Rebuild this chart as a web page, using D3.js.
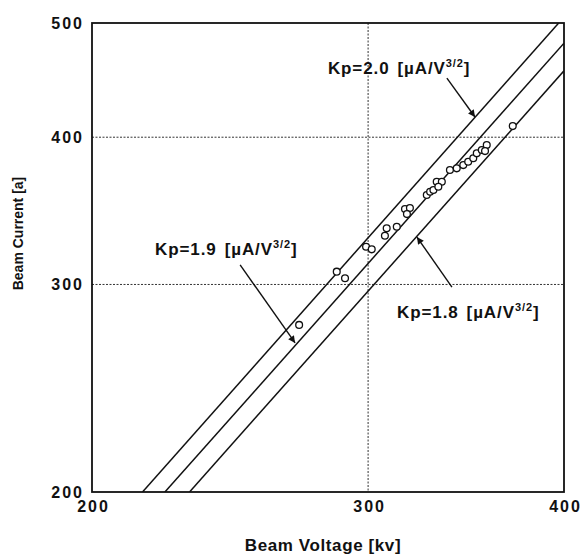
<!DOCTYPE html>
<html>
<head>
<meta charset="utf-8">
<script src="https://cdn.jsdelivr.net/npm/d3@7"></script>
<style>
    html, body { margin: 0; padding: 0; background: #fff; }
    svg { display: block; font-family: "Liberation Sans", Arial, Helvetica, sans-serif; font-weight: bold; }
    .tick-lbl { font-size: 16px; letter-spacing: 2px; fill: #111; }
    .ann { font-size: 17px; letter-spacing: 0.9px; fill: #111; }
</style>
</head>
<body>
<svg id="chart" width="582" height="556"></svg>
<script>
// Beam current vs beam voltage, log-log, with Kp = I / V^(3/2) perveance lines.

// axis ticks
var xTicks = [200, 300, 400];
var yTicks = [200, 300, 400, 500];
var xGrid = [300];
var yGrid = [300, 400];

// measured points: beam voltage [kV], beam current [A]
var voltage = [271.1, 286.5, 290.0, 299.1, 301.6, 307.5, 308.3, 312.9, 316.7, 319.0,
               317.6, 327.0, 328.6, 330.2, 331.8, 334.3, 332.6, 338.3, 341.7, 345.0,
               347.5, 350.1, 351.9, 354.5, 357.1, 356.2, 371.0];
var current = [277.2, 307.6, 303.7, 322.9, 321.3, 330.0, 334.8, 335.8, 347.6, 348.3,
               344.2, 357.3, 359.6, 360.8, 366.7, 366.7, 363.1, 375.2, 376.4, 378.8,
               381.3, 383.9, 387.6, 390.1, 393.9, 389.3, 408.8];

// perveance lines, end points [kV, A] where they leave the frame
var kpValues = ['2.0', '1.9', '1.8'];
var lineStart = [[215.4, 200], [222.6, 200], [230.8, 200]];
var lineEnd = [[396.9, 500], [400, 480.7], [400, 455.4]];

// annotation text anchor and arrow [from, to], in data units
var annText = [[282.8, 457.9], [219.4, 321.5], [313.0, 284.3]];
var annArrow = [
    [[336.8, 449.0], [351.0, 416.1]],
    [[248.6, 311.7], [269.5, 267.6]],
    [[339.3, 298.5], [322.3, 329.1]]
];

(function () {
    var svg = d3.select('#chart');
    var m = { top: 23, right: 18, bottom: 64, left: 92 };
    var W = 582, H = 556;
    var iw = W - m.left - m.right;
    var ih = H - m.top - m.bottom;

    var x = d3.scaleLog().domain([200, 400]).range([0, iw]);
    var y = d3.scaleLog().domain([200, 500]).range([ih, 0]);

    var defs = svg.append('defs');
    defs.append('clipPath').attr('id', 'clip')
        .append('rect').attr('width', iw).attr('height', ih);
    defs.append('marker')
        .attr('id', 'head')
        .attr('viewBox', '0 0 10 10')
        .attr('refX', 10).attr('refY', 5)
        .attr('markerWidth', 10).attr('markerHeight', 7)
        .attr('markerUnits', 'userSpaceOnUse')
        .attr('orient', 'auto')
        .append('path').attr('d', 'M0,0 L10,5 L0,10 Z').attr('fill', '#111');

    var g = svg.append('g').attr('transform', 'translate(' + m.left + ',' + m.top + ')');

    // dotted grid
    var grid = g.append('g').attr('class', 'grid');
    xGrid.forEach(function (v) {
        grid.append('line')
            .attr('x1', x(v)).attr('x2', x(v)).attr('y1', 0).attr('y2', ih)
            .attr('stroke', '#333').attr('stroke-width', 1).attr('stroke-dasharray', '2 1.5');
    });
    yGrid.forEach(function (v) {
        grid.append('line')
            .attr('x1', 0).attr('x2', iw).attr('y1', y(v)).attr('y2', y(v))
            .attr('stroke', '#333').attr('stroke-width', 1).attr('stroke-dasharray', '2 1.5');
    });

    // Kp lines
    var plot = g.append('g').attr('clip-path', 'url(#clip)');
    kpValues.forEach(function (k, i) {
        plot.append('line')
            .attr('x1', x(lineStart[i][0])).attr('y1', y(lineStart[i][1]))
            .attr('x2', x(lineEnd[i][0])).attr('y2', y(lineEnd[i][1]))
            .attr('stroke', '#111').attr('stroke-width', 1.5);
    });

    // data points
    plot.selectAll('circle.pt')
        .data(d3.range(voltage.length))
        .enter().append('circle')
        .attr('class', 'pt')
        .attr('cx', function (i) { return x(voltage[i]); })
        .attr('cy', function (i) { return y(current[i]); })
        .attr('r', 3.4)
        .attr('fill', '#fff')
        .attr('stroke', '#111')
        .attr('stroke-width', 1.3);

    // frame
    g.append('rect')
        .attr('width', iw).attr('height', ih)
        .attr('fill', 'none').attr('stroke', '#111').attr('stroke-width', 1.8);

    // axes (labels only, no tick marks)
    var ax = g.append('g')
        .attr('transform', 'translate(0,' + ih + ')')
        .call(d3.axisBottom(x).tickValues(xTicks).tickFormat(d3.format('d')).tickSize(0).tickPadding(9));
    ax.select('.domain').remove();
    ax.selectAll('text').attr('class', 'tick-lbl').attr('dx', 1);

    var ay = g.append('g')
        .call(d3.axisLeft(y).tickValues(yTicks).tickFormat(d3.format('d')).tickSize(0).tickPadding(8));
    ay.select('.domain').remove();
    ay.selectAll('text').attr('class', 'tick-lbl');

    // axis titles
    g.append('text')
        .attr('x', iw / 2 - 5).attr('y', ih + 59)
        .attr('text-anchor', 'middle')
        .attr('font-size', 17).attr('letter-spacing', 0.6).attr('fill', '#111')
        .text('Beam Voltage [kv]');
    g.append('text')
        .attr('transform', 'translate(' + (-69) + ',' + (ih / 2 - 24) + ') rotate(-90)')
        .attr('text-anchor', 'middle')
        .attr('font-size', 14).attr('fill', '#111')
        .text('Beam Current [a]');

    // Kp annotations
    kpValues.forEach(function (k, i) {
        var t = g.append('text')
            .attr('class', 'ann')
            .attr('x', x(annText[i][0])).attr('y', y(annText[i][1]))
            .attr('dy', '0.35em');
        t.append('tspan').text('Kp=' + k);
        t.append('tspan').attr('dx', 8).text('[\u00b5A/V');
        t.append('tspan').attr('font-size', 11).attr('dy', -7).text('3/2');
        t.append('tspan').attr('dy', 7).text(']');

        g.append('line')
            .attr('x1', x(annArrow[i][0][0])).attr('y1', y(annArrow[i][0][1]))
            .attr('x2', x(annArrow[i][1][0])).attr('y2', y(annArrow[i][1][1]))
            .attr('stroke', '#111').attr('stroke-width', 1.4)
            .attr('marker-end', 'url(#head)');
    });
})();
</script>
</body>
</html>
